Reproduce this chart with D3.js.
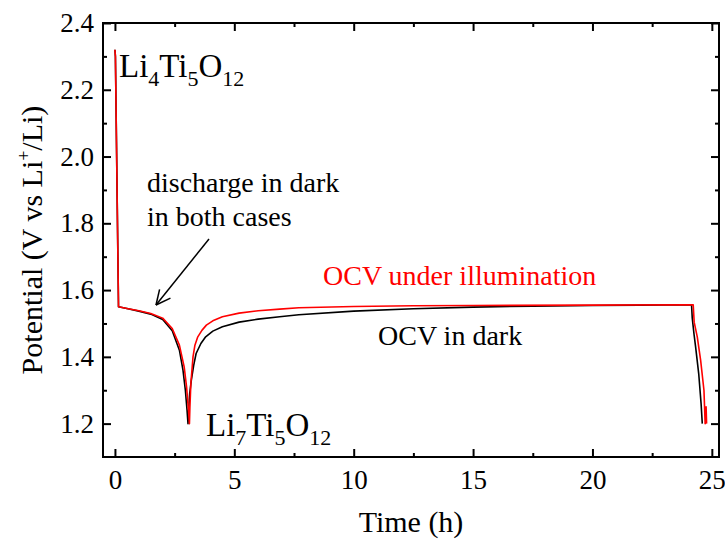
<!DOCTYPE html>
<html><head><meta charset="utf-8">
<script src="https://cdn.jsdelivr.net/npm/d3@7"></script>
<style>body{margin:0;background:#fff}</style>
</head><body><svg id="c" width="725" height="541"></svg>
<script>
// Dark: discharge, OCV in dark, second discharge
const darkTime = [0, 0.02, 0.15, 0.5, 1.0, 1.5, 2.0, 2.4, 2.7, 2.85, 2.95, 3.02, 3.06, 3.09, 3.13, 3.2, 3.3, 3.4, 3.6, 3.8, 4.1, 4.5, 5.2, 6.0, 6.9, 7.7, 10, 12.5, 15, 17.5, 20, 22, 24.15, 24.18, 24.25, 24.32, 24.45, 24.55, 24.6];
const darkV    = [2.32, 2.30, 1.55, 1.545, 1.537, 1.528, 1.512, 1.478, 1.42, 1.36, 1.30, 1.24, 1.20, 1.24, 1.29, 1.33, 1.375, 1.41, 1.44, 1.46, 1.477, 1.49, 1.504, 1.513, 1.52, 1.526, 1.537, 1.544, 1.549, 1.552, 1.554, 1.555, 1.556, 1.516, 1.47, 1.43, 1.35, 1.26, 1.20];
// Illumination: discharge in dark, OCV under illumination, second discharge
const lightTime = [0, 0.02, 0.15, 0.5, 1.0, 1.5, 2.0, 2.4, 2.7, 2.9, 3.0, 3.08, 3.12, 3.14, 3.18, 3.27, 3.35, 3.47, 3.65, 3.83, 4.1, 4.5, 5.2, 6.0, 6.9, 7.7, 10, 12.5, 15, 20, 24.22, 24.26, 24.39, 24.53, 24.67, 24.72, 24.76, 24.78];
const lightV    = [2.32, 2.30, 1.55, 1.545, 1.538, 1.53, 1.516, 1.485, 1.435, 1.37, 1.31, 1.24, 1.20, 1.25, 1.32, 1.40, 1.435, 1.46, 1.48, 1.495, 1.508, 1.52, 1.531, 1.538, 1.543, 1.547, 1.551, 1.553, 1.554, 1.555, 1.556, 1.504, 1.46, 1.39, 1.30, 1.20, 1.25, 1.20];

const xMajor = [0, 5, 10, 15, 20, 25];
const xMinor = [2.5, 7.5, 12.5, 17.5, 22.5];
const yMajor = [1.2, 1.4, 1.6, 1.8, 2.0, 2.2, 2.4];
const yMinor = [1.3, 1.5, 1.7, 1.9, 2.1, 2.3];

const svg = d3.select("#c");
const L = 103, R = 719, T = 23, B = 457;
const x = d3.scaleLinear().domain([-0.5, 25.3]).range([L, R]);
const y = d3.scaleLinear().domain([1.1, 2.4]).range([B, T]);
const font = "Liberation Serif, Times New Roman, serif";

function styleAxis(g){
  g.select(".domain").remove();
  g.selectAll("line").attr("stroke","#000").attr("stroke-width",2);
  g.selectAll("text").attr("font-family",font).attr("font-size",27).attr("fill","#000");
}
// bottom
svg.append("g").attr("transform",`translate(0,${B})`)
  .call(d3.axisBottom(x).tickValues(xMajor).tickSize(-8).tickPadding(13).tickFormat(d3.format("d"))).call(styleAxis);
svg.append("g").attr("transform",`translate(0,${B})`)
  .call(d3.axisBottom(x).tickValues(xMinor).tickSize(-4).tickFormat("")).call(styleAxis);
// top
svg.append("g").attr("transform",`translate(0,${T})`)
  .call(d3.axisTop(x).tickValues(xMajor).tickSize(-8).tickFormat("")).call(styleAxis);
svg.append("g").attr("transform",`translate(0,${T})`)
  .call(d3.axisTop(x).tickValues(xMinor).tickSize(-4).tickFormat("")).call(styleAxis);
// left
svg.append("g").attr("transform",`translate(${L},0)`)
  .call(d3.axisLeft(y).tickValues(yMajor).tickSize(-8).tickPadding(9).tickFormat(d3.format(".1f"))).call(styleAxis);
svg.append("g").attr("transform",`translate(${L},0)`)
  .call(d3.axisLeft(y).tickValues(yMinor).tickSize(-4).tickFormat("")).call(styleAxis);
// right
svg.append("g").attr("transform",`translate(${R},0)`)
  .call(d3.axisRight(y).tickValues(yMajor).tickSize(-8).tickFormat("")).call(styleAxis);
svg.append("g").attr("transform",`translate(${R},0)`)
  .call(d3.axisRight(y).tickValues(yMinor).tickSize(-4).tickFormat("")).call(styleAxis);

// frame
svg.append("rect").attr("x",L).attr("y",T).attr("width",R-L).attr("height",B-T)
  .attr("fill","none").attr("stroke","#000").attr("stroke-width",2);

const line = d3.line().x(d=>x(d[0])).y(d=>y(d[1]));
svg.append("path").datum(d3.zip(darkTime, darkV)).attr("d",line)
  .attr("fill","none").attr("stroke","#000").attr("stroke-width",1.6).attr("stroke-linejoin","round");
svg.append("path").datum(d3.zip(lightTime, lightV)).attr("d",line)
  .attr("fill","none").attr("stroke","#ff0000").attr("stroke-width",1.6).attr("stroke-linejoin","round");

// axis titles
svg.append("text").attr("x",(L+R)/2).attr("y",532).attr("text-anchor","middle")
  .attr("font-family",font).attr("font-size",30).text("Time (h)");
const yt = svg.append("text").attr("transform",`translate(42,${(T+B)/2}) rotate(-90)`).attr("text-anchor","middle")
  .attr("font-family",font).attr("font-size",30);
yt.append("tspan").text("Potential (V vs Li");
yt.append("tspan").attr("dy",-12).attr("font-size",18).text("+");
yt.append("tspan").attr("dy",12).text("/Li)");

// formula annotations
function formula(xp, yp, parts){
  const t = svg.append("text").attr("x",xp).attr("y",yp).attr("font-family",font).attr("font-size",33);
  let sub = false;
  parts.forEach(p=>{
    const isSub = /^\d+$/.test(p);
    const ts = t.append("tspan").text(p);
    if(isSub){ ts.attr("font-size",22).attr("dy", sub?0:9); }
    else { ts.attr("dy", sub?-9:0); }
    sub = isSub;
  });
}
formula(119, 77, ["Li","4","Ti","5","O","12"]);
formula(206, 436, ["Li","7","Ti","5","O","12"]);

const ann = (xp, yp, s, c) => svg.append("text").attr("x",xp).attr("y",yp).attr("font-family",font)
  .attr("font-size",28).attr("fill",c||"#000").text(s);
ann(147, 192, "discharge in dark");
ann(147, 226, "in both cases");
ann(323, 285, "OCV under illumination", "#ff0000");
ann(378, 345, "OCV in dark");

// arrow
const ax1 = 209, ay1 = 239, ax2 = 156, ay2 = 305;
svg.append("line").attr("x1",ax1).attr("y1",ay1).attr("x2",ax2).attr("y2",ay2).attr("stroke","#000").attr("stroke-width",1.5);
const ang = Math.atan2(ay2-ay1, ax2-ax1);
[0.45,-0.45].forEach(da=>{
  svg.append("line").attr("x1",ax2).attr("y1",ay2)
    .attr("x2",ax2-16*Math.cos(ang+da)).attr("y2",ay2-16*Math.sin(ang+da))
    .attr("stroke","#000").attr("stroke-width",1.5);
});
</script></body></html>
